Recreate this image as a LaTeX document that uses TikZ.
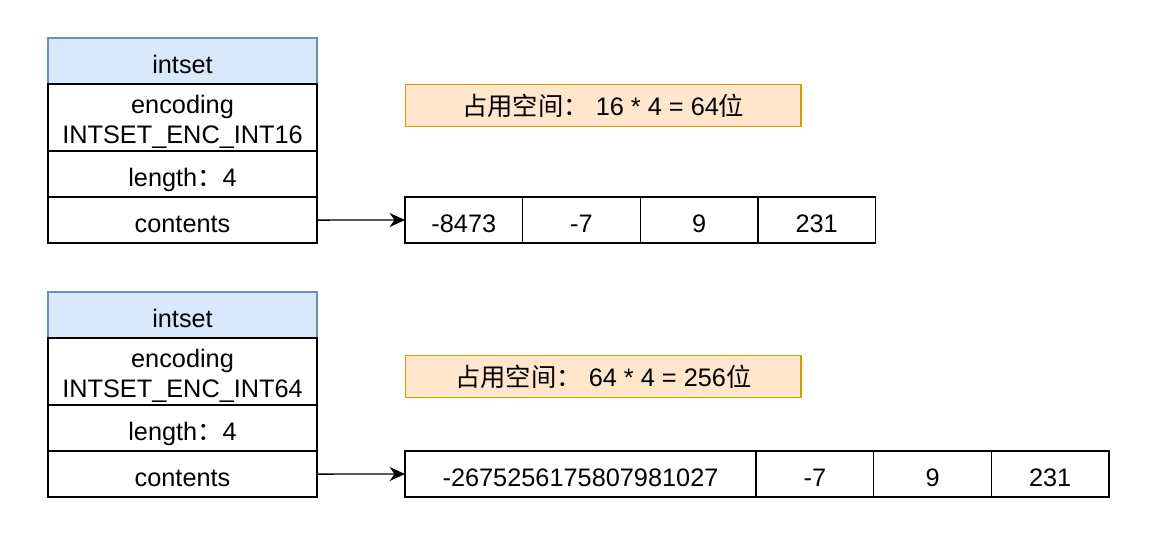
\documentclass[tikz,border=0pt]{standalone}
\usepackage{fontspec}
\setmainfont{Liberation Sans}
\newfontfamily\cjk{Noto Sans CJK SC}
\definecolor{hdblue}{HTML}{DAE8FC}
\definecolor{hdline}{HTML}{6C8EBF}
\definecolor{noteorange}{HTML}{FFE6CC}
\definecolor{noteline}{HTML}{D79B00}
\newcommand{\tallrow}{\rule{0pt}{19pt}}
\usetikzlibrary{arrows.meta,positioning}

\begin{document}
\begin{tikzpicture}[x=0.025cm, y=-0.025cm,
  base/.style={rectangle, draw=black, line width=1pt, fill=white,
               minimum width=6.725cm, minimum height=1.15cm,
               inner sep=0pt, outer sep=0pt, align=center,
               font=\fontsize{18}{21}\selectfont},
  field/.style={base, text height=17.5pt, text depth=0pt},
  encbox/.style={base, minimum height=1.675cm},
  head/.style={field, draw=hdline, fill=hdblue},
  cell/.style={field, minimum width=2.94cm},
  note/.style={rectangle, draw=noteline, fill=noteorange, line width=1pt,
               minimum width=9.875cm, minimum height=1.05cm,
               inner sep=0pt, font=\fontsize{18}{21}\selectfont},
  arr/.style={-{Stealth[length=11pt,width=10pt]}, line width=1pt}
]
\useasboundingbox (0,0) rectangle (1160,542);

% INT16 set
\node[head, anchor=north west] (headA) at (48,38) {intset};
\node[encbox, below=0pt of headA] (encA) {\tallrow encoding\\INTSET\_ENC\_INT16};
\node[field, below=0pt of encA] (lenA) {length{\cjk ：}4};
\node[field, below=0pt of lenA] (contA) {contents};

\node[note, anchor=north west] (sizeA) at (405,84) {{\cjk 占用空间：} 16 * 4 = 64{\cjk 位}};

\node[cell, anchor=west] (a1) at (405,220) {-8473};
\node[cell, right=0pt of a1] (a2) {-7};
\node[cell, right=0pt of a2] (a3) {9};
\node[cell, right=0pt of a3] (a4) {231};

\draw[arr] (contA.east) -- (a1.west);

% INT64 set
\node[head, anchor=north west] (headB) at (48,292) {intset};
\node[encbox, below=0pt of headB] (encB) {\tallrow encoding\\INTSET\_ENC\_INT64};
\node[field, below=0pt of encB] (lenB) {length{\cjk ：}4};
\node[field, below=0pt of lenB] (contB) {contents};

\node[note, anchor=north west] (sizeB) at (405,355) {{\cjk 占用空间：} 64 * 4 = 256{\cjk 位}};

\node[cell, minimum width=8.775cm, anchor=west] (b1) at (405,474) {-2675256175807981027};
\node[cell, right=0pt of b1] (b2) {-7};
\node[cell, right=0pt of b2] (b3) {9};
\node[cell, right=0pt of b3] (b4) {231};

\draw[arr] (contB.east) -- (b1.west);
\end{tikzpicture}
\end{document}
